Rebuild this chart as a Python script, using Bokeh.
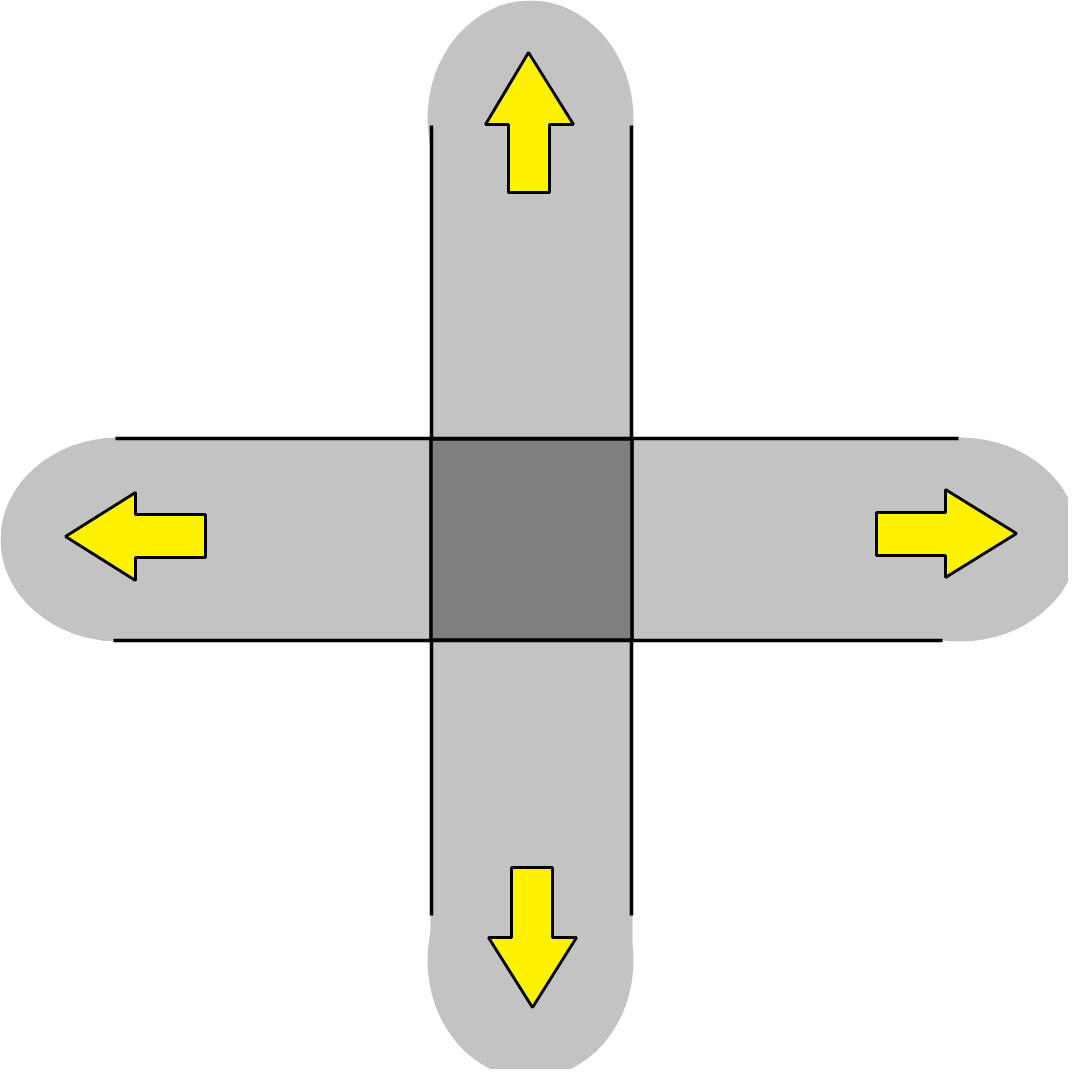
from bokeh.plotting import figure
from bokeh.models import Range1d
from bokeh.embed import file_html
from bokeh.resources import INLINE

# geometry in reference pixel units (y grows downward)
cap_x = [530, 530, 118, 960]
cap_y = [118, 960, 539, 539]
cap_w = [206, 206, 236, 236]
cap_h = [236, 236, 204, 204]

bar_x = [531, 531]
bar_y = [539, 539]
bar_w = [202, 860]
bar_h = [844, 202]

edge_xs = [[431, 431], [631, 631], [115, 958], [113, 942]]
edge_ys = [[125, 915], [125, 915], [438, 438], [640, 640]]

center_x, center_y, center_size = 531, 539, 201

arrow_xs = [
    [528, 573, 549, 549, 508, 508, 485],
    [65, 135, 135, 205, 205, 135, 135],
    [1016, 945, 945, 876, 876, 945, 945],
    [532, 488, 511, 511, 552, 552, 576],
]
arrow_ys = [
    [52, 124, 124, 192, 192, 124, 124],
    [536, 492, 514, 514, 557, 557, 580],
    [533, 489, 512, 512, 555, 555, 577],
    [1007, 937, 937, 867, 867, 937, 937],
]

p = figure(width=1068, height=1069, output_backend="svg", toolbar_location=None,
           x_range=Range1d(0, 1068), y_range=Range1d(1069, 0), min_border=0)
p.axis.visible = False
p.grid.visible = False
p.outline_line_color = None

p.ellipse(cap_x, cap_y, width=cap_w, height=cap_h, fill_color="#c3c3c3", line_color=None)
p.rect(bar_x, bar_y, width=bar_w, height=bar_h, fill_color="#c3c3c3", line_color=None)
p.multi_line(edge_xs, edge_ys, line_color="black", line_width=3.5)
p.rect([center_x], [center_y], width=center_size, height=center_size,
       fill_color="#7f7f7f", line_color="black", line_width=3.5)
p.patches(arrow_xs, arrow_ys, fill_color="#fff200", line_color="black", line_width=3)

open("out.html", "w").write(file_html(p, INLINE))
